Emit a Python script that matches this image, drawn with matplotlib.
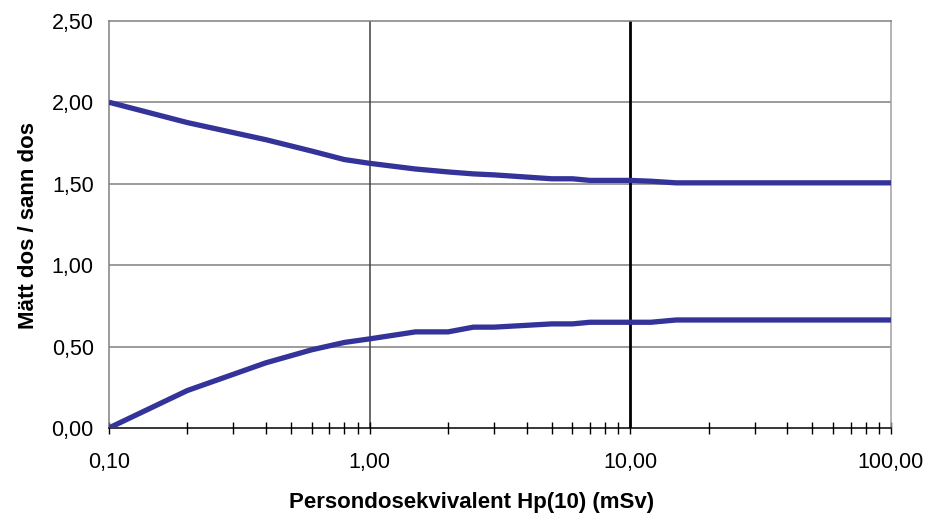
import numpy as np
import matplotlib
matplotlib.use("Agg")
from matplotlib import pyplot as plt
from matplotlib.ticker import FixedLocator, LogLocator, NullFormatter

dose = [0.1, 0.2, 0.4, 0.6, 0.8, 1.0, 1.5, 2.0, 2.5, 3.0, 5.0, 6.0, 7.0,
        10.0, 12.0, 15.0, 20.0, 25.0, 50.0, 100.0]
upper = [2.00, 1.875, 1.77, 1.70, 1.648, 1.625, 1.59, 1.572, 1.56, 1.554,
         1.53, 1.53, 1.52, 1.52, 1.515, 1.505, 1.505, 1.505, 1.505, 1.505]
lower = [0.00, 0.23, 0.40, 0.48, 0.525, 0.547, 0.59, 0.59, 0.619, 0.619,
         0.639, 0.639, 0.649, 0.649, 0.649, 0.663, 0.663, 0.663, 0.663, 0.663]

xticks = [0.1, 1, 10, 100]
xlabels = ['0,10', '1,00', '10,00', '100,00']
yticks = [0, 0.5, 1.0, 1.5, 2.0, 2.5]
ylabels = ['0,00', '0,50', '1,00', '1,50', '2,00', '2,50']

plt.rcParams['font.family'] = ['Liberation Sans', 'DejaVu Sans']

fig = plt.figure(figsize=(9.31, 5.20), dpi=100)
ax = fig.add_axes([0.117, 0.177, 0.840, 0.783])

lineColor = '#333399'
ax.set_xscale('log')
ax.set_xlim(0.1, 100)
ax.set_ylim(0, 2.5)

# grid lines
for y in yticks[1:-1]:
    ax.axhline(y, color='#808080', lw=1.1, zorder=1)
ax.axvline(1, color='#404040', lw=1.1, zorder=1)
ax.axvline(10, color='black', lw=2, zorder=1)

ax.plot(dose, upper, color=lineColor, lw=3.8, zorder=3, solid_capstyle='butt')
ax.plot(dose, lower, color=lineColor, lw=3.8, zorder=3, solid_capstyle='butt')

ax.xaxis.set_major_locator(FixedLocator(xticks))
ax.set_xticklabels(xlabels)
ax.xaxis.set_minor_locator(LogLocator(base=10, subs=np.arange(2, 10)))
ax.xaxis.set_minor_formatter(NullFormatter())
ax.set_yticks(yticks)
ax.set_yticklabels(ylabels)

ax.tick_params(axis='x', which='both', direction='inout', length=8, width=1,
               color='black', labelsize=15.5, pad=13)
ax.tick_params(axis='y', length=0, labelsize=15.5, pad=11)

for side in ['left', 'top']:
    ax.spines[side].set_color('#808080')
ax.spines['right'].set_color('#a0a0a0')
ax.spines['bottom'].set_color('black')
for s in ax.spines.values():
    s.set_linewidth(1.1)

ax.set_xlabel('Persondosekvivalent Hp(10) (mSv)', fontsize=16, fontweight='bold')
ax.xaxis.set_label_coords(0.464, -0.157)
ax.set_ylabel('Mätt dos / sann dos', fontsize=16, fontweight='bold')
ax.yaxis.set_label_coords(-0.09, 0.497)

fig.savefig('out.png', dpi=100)
